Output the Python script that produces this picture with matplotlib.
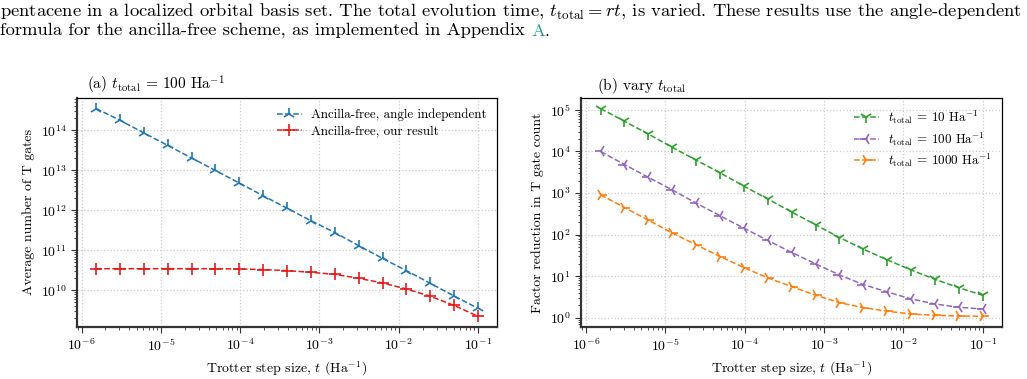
import numpy as np
import matplotlib
matplotlib.use("Agg")
import matplotlib.pyplot as plt

plt.rcParams["font.family"] = "serif"
plt.rcParams["font.serif"] = ["cmr10"]
plt.rcParams["mathtext.fontset"] = "cm"
plt.rcParams["axes.formatter.use_mathtext"] = True

# Trotter step sizes (Ha^-1)
steps = [1.526e-6, 3.052e-6, 6.104e-6, 1.221e-5, 2.441e-5, 4.883e-5, 9.766e-5,
         1.953e-4, 3.906e-4, 7.813e-4, 1.563e-3, 3.125e-3, 6.25e-3, 1.25e-2,
         2.5e-2, 5e-2, 1e-1]

# (a) average number of T gates, t_total = 100
angle_indep = [3.50e14, 1.78e14, 8.6e13, 4.2e13, 2.03e13, 9.9e12, 4.8e12, 2.31e12,
               1.13e12, 5.5e11, 2.78e11, 1.31e11, 6.3e10, 3.1e10, 1.5e10, 7.2e9, 3.54e9]
our_result = [3.47e10, 3.47e10, 3.47e10, 3.47e10, 3.47e10, 3.46e10, 3.42e10, 3.29e10,
              3.11e10, 2.82e10, 2.51e10, 2.0e10, 1.53e10, 1.08e10, 7.1e9, 4.2e9, 2.24e9]

# (b) factor reduction
red_10 = [1.08e5, 5.33e4, 2.63e4, 1.26e4, 6.2e3, 3.08e3, 1.46e3, 720, 349, 173,
          85, 44.7, 24.6, 14.1, 8.4, 5.27, 3.46]
red_100 = [1.0e4, 4.85e3, 2.39e3, 1.19e3, 575, 283, 143, 72.4, 37.2, 19.8,
           10.7, 6.27, 4.18, 2.83, 2.14, 1.78, 1.62]
red_1000 = [906, 447, 223, 109, 57, 29.7, 16.1, 9.1, 5.6, 3.48,
            2.30, 1.75, 1.43, 1.23, 1.14, 1.10, 1.08]

fig = plt.figure(figsize=(10.27, 3.79), dpi=100)
ax1 = fig.add_axes([0.075, 0.138, 0.409, 0.603])
ax2 = fig.add_axes([0.5662, 0.138, 0.4093, 0.603])

# caption text from the paper
cap = 13.4
fig.text(0.0, 0.972, "pentacene in a localized orbital basis set. The total evolution time, "
         r"$t_{\mathrm{total}} = rt$, is varied. These results use the angle-dependent",
         fontsize=cap, va="center", ha="left")
line2 = fig.text(0.0, 0.918, "formula for the ancilla-free scheme, as implemented in Appendix ",
                 fontsize=cap, va="center", ha="left")
fig.canvas.draw()
bb = line2.get_window_extent()
t_a = fig.text(bb.x1 / fig.bbox.width, 0.918, "A", fontsize=cap, va="center", ha="left",
               color="#2a9d8f")
fig.canvas.draw()
bb2 = t_a.get_window_extent()
fig.text(bb2.x1 / fig.bbox.width, 0.918, ".", fontsize=cap, va="center", ha="left")

kw = dict(linestyle="--", linewidth=1.1, markersize=9, markeredgewidth=1.2)
ax1.plot(steps, angle_indep, marker="2", color="#1f77b4",
         label="Ancilla-free, angle independent", **kw)
ax1.plot(steps, our_result, marker="+", color="#e41a1c",
         label="Ancilla-free, our result", **kw)

ax2.plot(steps, red_10, marker="1", color="#2ca02c",
         label=r"$t_{\mathrm{total}}$ = 10 Ha$^{-1}$", **kw)
ax2.plot(steps, red_100, marker="3", color="#9467bd",
         label=r"$t_{\mathrm{total}}$ = 100 Ha$^{-1}$", **kw)
ax2.plot(steps, red_1000, marker="4", color="#ff7f0e",
         label=r"$t_{\mathrm{total}}$ = 1000 Ha$^{-1}$", **kw)

for ax in (ax1, ax2):
    ax.set_xscale("log")
    ax.set_yscale("log")
    ax.grid(True, which="major", linestyle=":", color="#cccccc", linewidth=0.9)
    ax.set_xlabel(r"Trotter step size, $t$ (Ha$^{-1}$)", fontsize=10)
    ax.tick_params(which="major", labelsize=10, length=4, color="#333333")
    ax.tick_params(which="minor", length=2, color="#333333")
    for s in ("left", "bottom"):
        ax.spines[s].set_linewidth(1.6)
        ax.spines[s].set_color("#333333")
    for s in ("top", "right"):
        ax.spines[s].set_linewidth(0.9)
    ax.legend(loc="upper right", frameon=False, fontsize=9.4, handlelength=1.9,
              handletextpad=0.7, borderaxespad=0.4, labelspacing=0.3)

ax1.set_ylabel("Average number of T gates", fontsize=10)
ax2.set_ylabel("Factor reduction in T gate count", fontsize=10)

ax1.text(0.023, 1.008, r"(a) $t_{\mathrm{total}}$ = 100 Ha$^{-1}$", transform=ax1.transAxes,
         fontsize=11, va="bottom", ha="left")
ax2.text(0.036, 1.008, r"(b) vary $t_{\mathrm{total}}$", transform=ax2.transAxes,
         fontsize=11, va="bottom", ha="left")

fig.savefig("out.png", dpi=100)
